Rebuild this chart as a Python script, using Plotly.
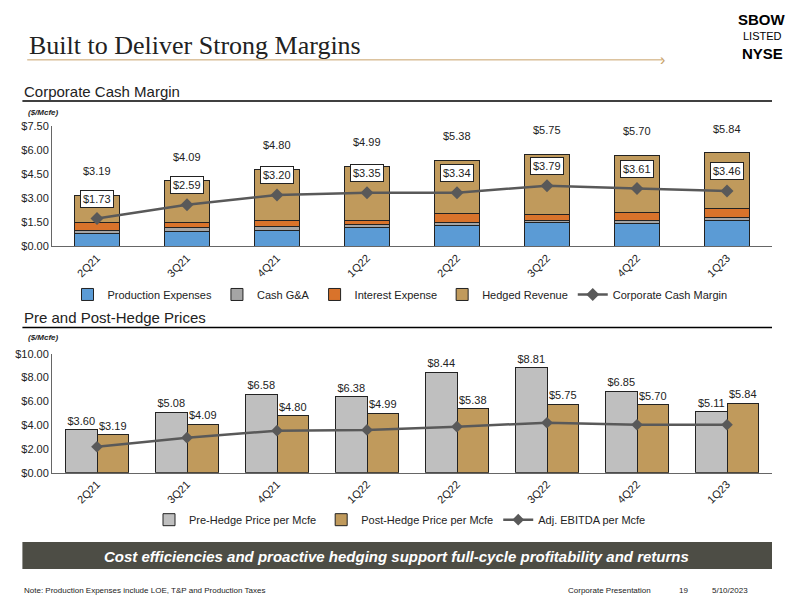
import plotly.graph_objects as go

quarters = ['2Q21', '3Q21', '4Q21', '1Q22', '2Q22', '3Q22', '4Q22', '1Q23']
production = [0.82, 0.95, 1.00, 1.20, 1.28, 1.50, 1.43, 1.58]
cash_ga = [0.18, 0.20, 0.22, 0.14, 0.20, 0.12, 0.20, 0.22]
interest = [0.46, 0.35, 0.38, 0.30, 0.56, 0.34, 0.46, 0.58]
cash_margin = [1.73, 2.59, 3.20, 3.35, 3.34, 3.79, 3.61, 3.46]
hedged_rev = [3.19, 4.09, 4.80, 4.99, 5.38, 5.75, 5.70, 5.84]

pre_hedge = [3.60, 5.08, 6.58, 6.38, 8.44, 8.81, 6.85, 5.11]
post_hedge = [3.19, 4.09, 4.80, 4.99, 5.38, 5.75, 5.70, 5.84]
ebitda = [2.18, 2.94, 3.53, 3.60, 3.87, 4.20, 4.03, 4.03]

BLUE, GRAY, ORANGE, TAN, LINE = '#5B9BD5', '#A5A5A5', '#D9732B', '#C09A5C', '#595959'
FONT = 'Liberation Sans, Arial'

fig = go.Figure()
edge = dict(color='#222', width=1)
for name, vals, col in [('Production Expenses', production, BLUE), ('Cash G&A', cash_ga, GRAY),
                        ('Interest Expense', interest, ORANGE), ('Hedged Revenue', cash_margin, TAN)]:
    fig.add_trace(go.Bar(x=quarters, y=vals, name=name, marker=dict(color=col, line=edge),
                         width=0.5, xaxis='x', yaxis='y', legend='legend'))
fig.add_trace(go.Scatter(x=quarters, y=cash_margin, name='Corporate Cash Margin', mode='lines+markers',
                         line=dict(color=LINE, width=2.5), marker=dict(symbol='diamond', size=10, color=LINE),
                         xaxis='x', yaxis='y', legend='legend'))
for q, v in zip(quarters, hedged_rev):
    fig.add_annotation(x=q, y=v, xref='x', yref='y', yshift=16, yanchor='bottom', text=f'${v:.2f}',
                       showarrow=False, font=dict(size=11, color='#222'))
for q, v in zip(quarters, cash_margin):
    fig.add_annotation(x=q, y=v, xref='x', yref='y', yshift=20, text=f'${v:.2f}', showarrow=False,
                       bgcolor='white', bordercolor='#222', borderwidth=1, borderpad=2,
                       font=dict(size=11, color='#222'))

fig.add_trace(go.Bar(x=quarters, y=pre_hedge, name='Pre-Hedge Price per Mcfe', marker=dict(color='#BFBFBF', line=edge),
                     text=[f'${v:.2f}' for v in pre_hedge], textposition='outside', textfont=dict(size=11, color='#222'),
                     xaxis='x2', yaxis='y2', legend='legend2', cliponaxis=False,
                     offsetgroup='a', width=0.35, offset=-0.35))
fig.add_trace(go.Bar(x=quarters, y=post_hedge, name='Post-Hedge Price per Mcfe', marker=dict(color=TAN, line=edge),
                     text=[f'${v:.2f}' for v in post_hedge], textposition='outside', textfont=dict(size=11, color='#222'),
                     xaxis='x2', yaxis='y2', legend='legend2', cliponaxis=False,
                     offsetgroup='b', width=0.35, offset=0))
fig.add_trace(go.Scatter(x=quarters, y=ebitda, name='Adj. EBITDA per Mcfe', mode='lines+markers',
                         line=dict(color=LINE, width=2.5), marker=dict(symbol='diamond', size=9, color=LINE),
                         xaxis='x2', yaxis='y2', legend='legend2'))

axcommon = dict(showgrid=False, showline=True, linecolor='#666', tickangle=-45, ticks='',
                tickfont=dict(size=11, color='#222', family=FONT))
ycommon = dict(showgrid=False, showline=True, linecolor='#666', ticks='', tickfont=dict(size=11, color='#222'))

fig.update_layout(
    width=800, height=600, margin=dict(l=0, r=0, t=0, b=0),
    paper_bgcolor='white', plot_bgcolor='white', font=dict(family=FONT, color='#222'),
    barmode='stack', bargap=0.45, bargroupgap=0,
    xaxis=dict(domain=[0.055, 0.955], anchor='y', **axcommon),
    yaxis=dict(domain=[0.605, 0.809], range=[0, 7.5], tickvals=[0, 1.5, 3, 4.5, 6, 7.5],
               tickformat='$.2f', **ycommon),
    xaxis2=dict(domain=[0.055, 0.955], anchor='y2', **axcommon),
    yaxis2=dict(domain=[0.22, 0.422], range=[0, 10], tickvals=[0, 2, 4, 6, 8, 10],
                tickformat='$.2f', **ycommon),
    legend=dict(orientation='h', x=0.49, xanchor='center', y=0.523, yanchor='middle', traceorder='normal',
                font=dict(size=11), bgcolor='rgba(0,0,0,0)'),
    legend2=dict(orientation='h', x=0.49, xanchor='center', y=0.14, yanchor='middle', traceorder='normal',
                 font=dict(size=11), bgcolor='rgba(0,0,0,0)'),
)

shapes = [
    dict(type='line', xref='paper', yref='paper', x0=0.024, x1=0.818, y0=0.922, y1=0.922,
         line=dict(color='#C8A26A', width=1)),
    dict(type='line', xref='paper', yref='paper', x0=0.018, x1=0.955, y0=0.852, y1=0.852,
         line=dict(color='black', width=1.5)),
    dict(type='line', xref='paper', yref='paper', x0=0.018, x1=0.955, y0=0.467, y1=0.467,
         line=dict(color='black', width=1.5)),
    dict(type='rect', xref='paper', yref='paper', x0=0.018, x1=0.955, y0=0.056, y1=0.102,
         fillcolor='#4D4D45', line=dict(width=0)),
]
fig.update_layout(shapes=shapes)

anns = [
    dict(x=0.024, y=0.947, text='Built to Deliver Strong Margins', font=dict(family='Liberation Serif', size=26, color='#222'),
         xanchor='left', yanchor='middle'),
    dict(x=0.813, y=0.922, text='›', font=dict(size=16, color='#C8A26A'), xanchor='left', yanchor='middle'),
    dict(x=0.943, y=0.99, text='<b>SBOW</b>', font=dict(size=15, color='black'), xanchor='center', yanchor='middle'),
    dict(x=0.943, y=0.963, text='LISTED', font=dict(size=11, color='black'), xanchor='center', yanchor='middle'),
    dict(x=0.943, y=0.932, text='<b>NYSE</b>', font=dict(size=15, color='black'), xanchor='center', yanchor='middle'),
    dict(x=0.018, y=0.869, text='Corporate Cash Margin', font=dict(size=15), xanchor='left', yanchor='middle'),
    dict(x=0.022, y=0.833, text='<b><i>($/Mcfe)</i></b>', font=dict(size=8), xanchor='left', yanchor='middle'),
    dict(x=0.018, y=0.484, text='Pre and Post-Hedge Prices', font=dict(size=15), xanchor='left', yanchor='middle'),
    dict(x=0.022, y=0.450, text='<b><i>($/Mcfe)</i></b>', font=dict(size=8), xanchor='left', yanchor='middle'),
    dict(x=0.486, y=0.078, text='<b><i>Cost efficiencies and proactive hedging support full-cycle profitability and returns</i></b>',
         font=dict(size=15, color='white'), xanchor='center', yanchor='middle'),
    dict(x=0.018, y=0.019, text='Note: Production Expenses include LOE, T&P and Production Taxes', font=dict(size=8),
         xanchor='left', yanchor='middle'),
    dict(x=0.697, y=0.019, text='Corporate Presentation', font=dict(size=8), xanchor='left', yanchor='middle'),
    dict(x=0.836, y=0.019, text='19', font=dict(size=8), xanchor='left', yanchor='middle'),
    dict(x=0.877, y=0.019, text='5/10/2023', font=dict(size=8), xanchor='left', yanchor='middle'),
]
for a in anns:
    fig.add_annotation(xref='paper', yref='paper', showarrow=False, **a)

fig.write_html('out.html')
